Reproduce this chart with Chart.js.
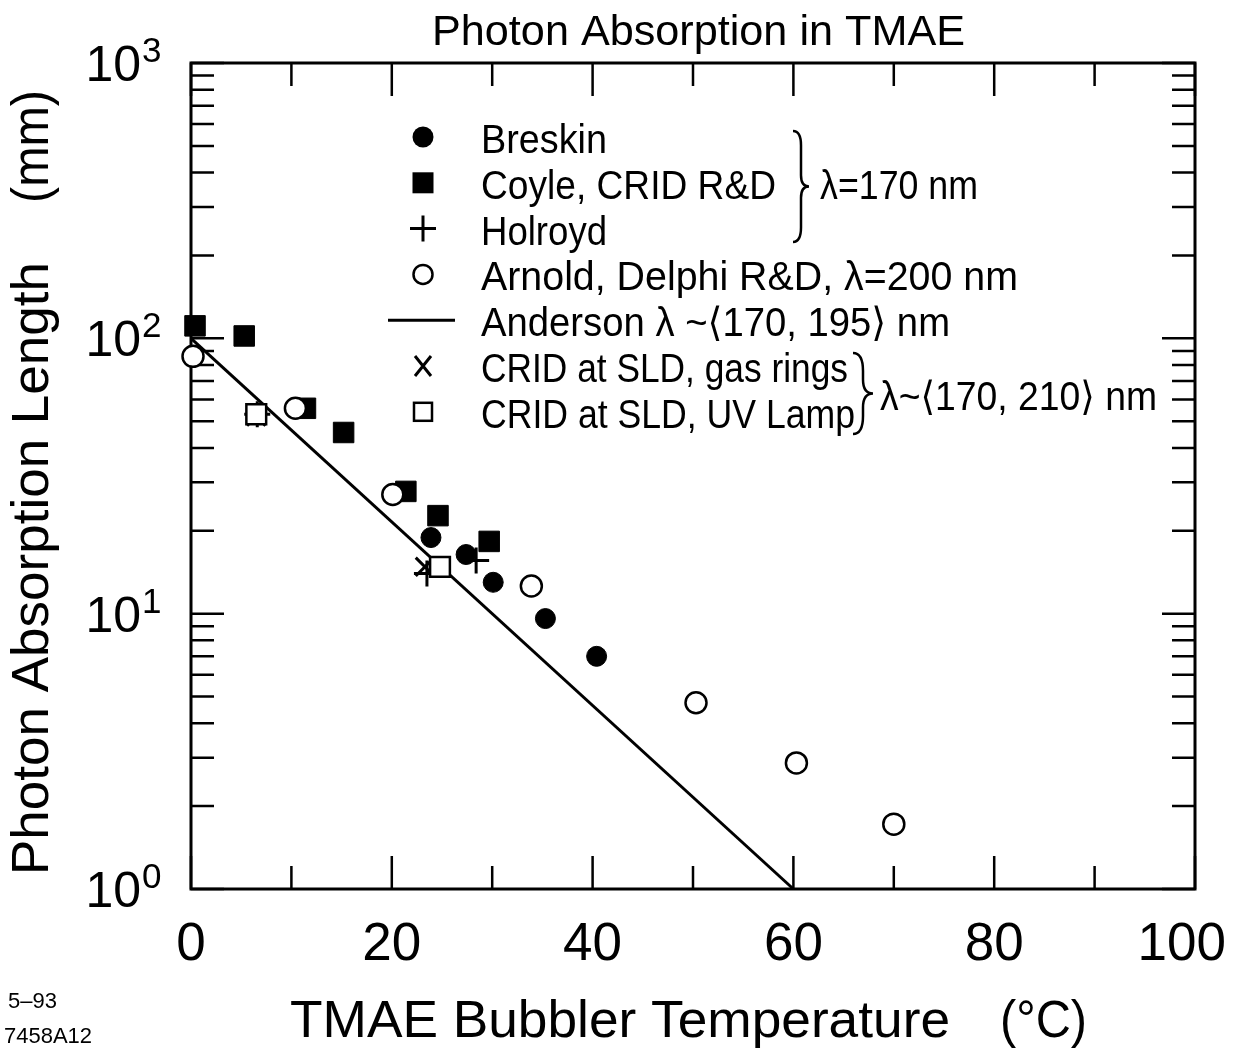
<!DOCTYPE html>
<html>
<head>
<meta charset="utf-8">
<script src="https://cdn.jsdelivr.net/npm/chart.js"></script>
<style>
  body { margin: 0; background: #fff; }
  canvas { display: block; }
</style>
</head>
<body>
<canvas id="tmaeChart" width="1235" height="1050"></canvas>
<script>
// values (temperature in deg C, absorption length in mm)
const breskinTemp = [23.9, 27.4, 30.1, 35.3, 40.4];
const breskinLength = [18.9, 16.4, 13.0, 9.6, 7.0];
const coyleTemp = [0.4, 5.3, 11.4, 15.2, 21.4, 24.6, 29.7];
const coyleLength = [111, 102, 55.7, 45.5, 27.8, 22.7, 18.3];
const holroydTemp = [6.6, 23.5, 28.4];
const holroydLength = [53, 14, 15.6];
const arnoldTemp = [0.2, 10.4, 20.1, 33.9, 50.3, 60.3, 70.0];
const arnoldLength = [86, 55.7, 27.1, 12.6, 4.75, 2.87, 1.72];
const andersonTemp = [0, 60];
const andersonLength = [100, 1];
const gasRingsTemp = [6.5, 23.3];
const gasRingsLength = [52, 14.8];
const uvLampTemp = [6.5, 24.8];
const uvLampLength = [53, 14.8];

// axis ticks
const xMajorTicks = [0, 20, 40, 60, 80, 100];
const xMinorTicks = [10, 30, 50, 70, 90];
const yMajorTicks = [1, 10, 100, 1000];
const yTickExponents = ['0', '1', '2', '3'];

const FONT = '"Liberation Sans", Arial, Helvetica, "DejaVu Sans", sans-serif';

function pts(xs, ys) {
    return xs.map((x, i) => ({ x: x, y: ys[i] }));
}

// draw text squeezed/stretched to a given width
function fitText(ctx, str, x, y, width, size, rotate) {
    ctx.save();
    ctx.font = size + 'px ' + FONT;
    const w = ctx.measureText(str).width;
    ctx.translate(x, y);
    if (rotate) ctx.rotate(-Math.PI / 2);
    ctx.scale(width / w, 1);
    ctx.textAlign = 'left';
    ctx.textBaseline = 'alphabetic';
    ctx.fillText(str, 0, 0);
    ctx.restore();
}

function brace(ctx, x, y1, y2, w) {
    const ym = (y1 + y2) / 2, s = x + w / 2;
    ctx.beginPath();
    ctx.moveTo(x, y1);
    ctx.quadraticCurveTo(s, y1, s, y1 + w * 0.9);
    ctx.lineTo(s, ym - w * 0.7);
    ctx.quadraticCurveTo(s, ym, x + w, ym);
    ctx.quadraticCurveTo(s, ym, s, ym + w * 0.7);
    ctx.lineTo(s, y2 - w * 0.9);
    ctx.quadraticCurveTo(s, y2, x, y2);
    ctx.stroke();
}

function marker(ctx, kind, x, y) {
    ctx.save();
    ctx.strokeStyle = '#000';
    ctx.fillStyle = '#000';
    ctx.beginPath();
    if (kind === 'dot') {
        ctx.arc(x, y, 10.5, 0, Math.PI * 2);
        ctx.fill();
    } else if (kind === 'box') {
        ctx.fillRect(x - 10.5, y - 10.5, 21, 21);
    } else if (kind === 'plus') {
        ctx.lineWidth = 3;
        ctx.moveTo(x - 13, y); ctx.lineTo(x + 13, y);
        ctx.moveTo(x, y - 13); ctx.lineTo(x, y + 13);
        ctx.stroke();
    } else if (kind === 'ring') {
        ctx.lineWidth = 2.5;
        ctx.arc(x, y, 9.5, 0, Math.PI * 2);
        ctx.stroke();
    } else if (kind === 'line') {
        ctx.lineWidth = 3;
        ctx.moveTo(x - 35, y); ctx.lineTo(x + 32, y);
        ctx.stroke();
    } else if (kind === 'x') {
        ctx.lineWidth = 3;
        ctx.moveTo(x - 8, y - 10); ctx.lineTo(x + 8, y + 10);
        ctx.moveTo(x + 8, y - 10); ctx.lineTo(x - 8, y + 10);
        ctx.stroke();
    } else if (kind === 'square') {
        ctx.lineWidth = 2.5;
        ctx.strokeRect(x - 9, y - 9, 18, 18);
    }
    ctx.restore();
}

const decorPlugin = {
    id: 'decor',
    beforeDatasetsDraw(chart) {
        const ctx = chart.ctx, a = chart.chartArea;
        const xs = chart.scales.x, ys = chart.scales.y;
        ctx.save();
        ctx.strokeStyle = '#000';
        ctx.lineWidth = 3;
        ctx.strokeRect(a.left, a.top, a.right - a.left, a.bottom - a.top);
        ctx.lineWidth = 2.5;
        ctx.beginPath();
        const xTick = (v, len) => {
            const px = xs.getPixelForValue(v);
            ctx.moveTo(px, a.bottom); ctx.lineTo(px, a.bottom - len);
            ctx.moveTo(px, a.top); ctx.lineTo(px, a.top + len);
        };
        const yTick = (v, len) => {
            const py = ys.getPixelForValue(v);
            ctx.moveTo(a.left, py); ctx.lineTo(a.left + len, py);
            ctx.moveTo(a.right, py); ctx.lineTo(a.right - len, py);
        };
        xMajorTicks.forEach(v => xTick(v, 33));
        xMinorTicks.forEach(v => xTick(v, 23));
        yMajorTicks.forEach(v => yTick(v, 33));
        for (let d = 1; d < 1000; d *= 10) {
            for (let m = 2; m <= 9; m++) yTick(d * m, 23);
        }
        ctx.stroke();
        ctx.restore();
    },
    afterDraw(chart) {
        const ctx = chart.ctx;
        const xs = chart.scales.x, ys = chart.scales.y;
        ctx.save();
        ctx.fillStyle = '#000';
        ctx.strokeStyle = '#000';

        // x tick labels (kept inside the page on the right)
        ctx.font = '53px ' + FONT;
        ctx.textAlign = 'center';
        ctx.textBaseline = 'alphabetic';
        xMajorTicks.forEach(v => {
            const label = String(v);
            const half = ctx.measureText(label).width / 2;
            const cx = Math.min(xs.getPixelForValue(v), 1226 - half);
            ctx.fillText(label, cx, 960);
        });

        // y tick labels 10^n
        yMajorTicks.forEach((v, i) => {
            const py = ys.getPixelForValue(v);
            ctx.font = '50px ' + FONT;
            ctx.textAlign = 'right';
            ctx.fillText('10', 141, py + 18);
            ctx.font = '35px ' + FONT;
            ctx.textAlign = 'left';
            ctx.fillText(yTickExponents[i], 142, py - 1);
        });

        // titles
        fitText(ctx, 'Photon Absorption in TMAE', 432, 45, 533, 42);
        fitText(ctx, 'TMAE Bubbler Temperature', 290, 1037, 660, 52);
        fitText(ctx, '(°C)', 1000, 1037, 87, 52);
        fitText(ctx, 'Photon Absorption Length', 48, 875, 613, 52, true);
        fitText(ctx, '(mm)', 48, 203, 113, 52, true);

        // legend
        const rows = [
            ['dot', 'Breskin', 126],
            ['box', 'Coyle, CRID R&D', 295],
            ['plus', 'Holroyd', 126],
            ['ring', 'Arnold, Delphi R&D, λ=200 nm', 537],
            ['line', 'Anderson λ ~⟨170, 195⟩ nm', 469],
            ['x', 'CRID at SLD, gas rings', 367],
            ['square', 'CRID at SLD, UV Lamp', 374]
        ];
        rows.forEach((r, i) => {
            const base = 153 + i * 45.8;
            marker(ctx, r[0], 423, base - 16);
            fitText(ctx, r[1], 481, base, r[2], 40);
        });
        ctx.lineWidth = 2.5;
        brace(ctx, 793, 131, 242, 16);
        brace(ctx, 853, 353, 434, 20);
        fitText(ctx, 'λ=170 nm', 820, 199, 158, 40);
        fitText(ctx, 'λ~⟨170, 210⟩ nm', 880, 410, 277, 40);

        // plot id
        ctx.font = '22px ' + FONT;
        ctx.textAlign = 'left';
        ctx.fillText('5–93', 8, 1008);
        ctx.fillText('7458A12', 4, 1043);
        ctx.restore();
    }
};

new Chart(document.getElementById('tmaeChart').getContext('2d'), {
    type: 'scatter',
    data: {
        datasets: [
            {
                label: 'CRID at SLD, UV Lamp',
                data: pts(uvLampTemp, uvLampLength),
                pointStyle: 'rect', pointRadius: 14, borderWidth: 2.5,
                borderColor: '#000', backgroundColor: '#fff', order: 1, clip: false
            },
            {
                label: 'Arnold, Delphi R&D, λ=200 nm',
                data: pts(arnoldTemp, arnoldLength),
                pointStyle: 'circle', pointRadius: 10.5, borderWidth: 2.5,
                borderColor: '#000', backgroundColor: '#fff', order: 2, clip: false
            },
            {
                label: 'CRID at SLD, gas rings',
                data: pts(gasRingsTemp, gasRingsLength),
                pointStyle: 'crossRot', pointRadius: 13, borderWidth: 3,
                borderColor: '#000', backgroundColor: '#000', order: 3, clip: false
            },
            {
                label: 'Holroyd',
                data: pts(holroydTemp, holroydLength),
                pointStyle: 'cross', pointRadius: 13, borderWidth: 3,
                borderColor: '#000', backgroundColor: '#000', order: 4, clip: false
            },
            {
                label: 'Breskin',
                data: pts(breskinTemp, breskinLength),
                pointStyle: 'circle', pointRadius: 10, borderWidth: 1,
                borderColor: '#000', backgroundColor: '#000', order: 5, clip: false
            },
            {
                label: 'Coyle, CRID R&D',
                data: pts(coyleTemp, coyleLength),
                pointStyle: 'rect', pointRadius: 14.5, borderWidth: 1,
                borderColor: '#000', backgroundColor: '#000', order: 6, clip: false
            },
            {
                label: 'Anderson',
                data: pts(andersonTemp, andersonLength),
                showLine: true, pointRadius: 0, borderWidth: 3,
                borderColor: '#000', backgroundColor: '#000', order: 7, clip: false
            }
        ]
    },
    options: {
        responsive: false,
        animation: false,
        events: [],
        layout: { padding: { left: 191, top: 63, right: 40, bottom: 161 } },
        scales: {
            x: { type: 'linear', min: 0, max: 100, display: false },
            y: { type: 'logarithmic', min: 1, max: 1000, display: false }
        },
        plugins: {
            legend: { display: false },
            tooltip: { enabled: false }
        }
    },
    plugins: [decorPlugin]
});
</script>
</body>
</html>
